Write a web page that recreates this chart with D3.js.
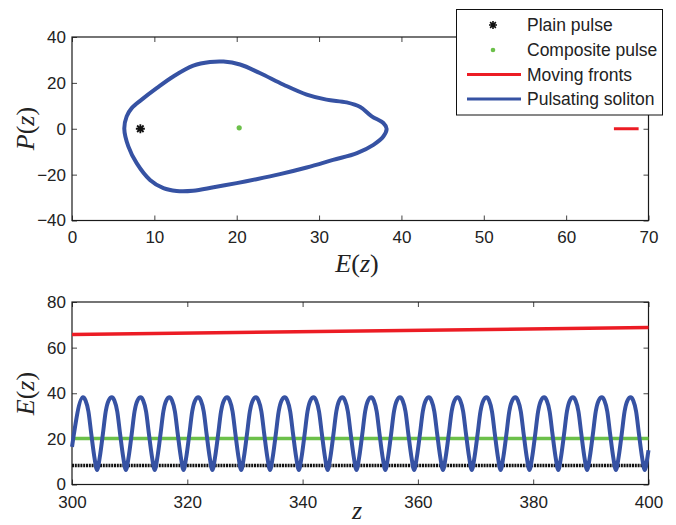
<!DOCTYPE html>
<html>
<head>
<meta charset="utf-8">
<script src="https://cdn.jsdelivr.net/npm/d3@7"></script>
<style>
  body { margin: 0; background: #fff; }
  svg { display: block; }
</style>
</head>
<body>
<script>
// ---- top panel: phase plane P(z) vs E(z) ----
const loopE = [6.35, 6.64, 7.25, 8.46, 10.28, 12.3, 14.73, 16.76, 18.4, 20.4, 22.8, 25.7, 28.5, 30.9,
               33.35, 35, 36.4, 37.8, 38.2, 37.8, 36.6, 34.6, 31.7, 28.5, 25.25, 22.4, 20, 17.2, 14.7,
               12.7, 11.1, 9.47, 7.85, 6.84];
const loopP = [0, 5.4, 9.0, 12.7, 17.7, 22.8, 27.5, 29.1, 29.3, 28, 24.3, 19.2, 14.9, 12.7,
               11.5, 9.5, 5.4, 2.5, 0, -3.4, -7, -10.6, -13.6, -16.9, -19.8, -22, -23.7, -25.5, -27,
               -27.1, -25.9, -22.3, -15, -7.7];
const plainPoint = [8.3, 0];
const compositePoint = [20.3, 0.4];
const frontsPhaseE = [65.8, 68.8];
const frontsPhaseP = [0, 0];

// ---- bottom panel: E(z) vs z ----
const frontsZ = [300, 400];
const frontsE = [65.8, 68.8];
const plainZ = [300, 400];
const plainE = [8.3, 8.3];
const compositeZ = [300, 400];
const compositeE = [20.2, 20.2];
// one row per period: peak, falling side, trough, rising side
const solitonZ = [300,
  301.9, 302.35, 302.85, 303.35, 303.85, 304.35, 304.85, 305.35, 305.85, 306.35,
  306.9, 307.35, 307.85, 308.35, 308.85, 309.35, 309.85, 310.35, 310.85, 311.35,
  311.9, 312.35, 312.85, 313.35, 313.85, 314.35, 314.85, 315.35, 315.85, 316.35,
  316.9, 317.35, 317.85, 318.35, 318.85, 319.35, 319.85, 320.35, 320.85, 321.35,
  321.9, 322.35, 322.85, 323.35, 323.85, 324.35, 324.85, 325.35, 325.85, 326.35,
  326.9, 327.35, 327.85, 328.35, 328.85, 329.35, 329.85, 330.35, 330.85, 331.35,
  331.9, 332.35, 332.85, 333.35, 333.85, 334.35, 334.85, 335.35, 335.85, 336.35,
  336.9, 337.35, 337.85, 338.35, 338.85, 339.35, 339.85, 340.35, 340.85, 341.35,
  341.9, 342.35, 342.85, 343.35, 343.85, 344.35, 344.85, 345.35, 345.85, 346.35,
  346.9, 347.35, 347.85, 348.35, 348.85, 349.35, 349.85, 350.35, 350.85, 351.35,
  351.9, 352.35, 352.85, 353.35, 353.85, 354.35, 354.85, 355.35, 355.85, 356.35,
  356.9, 357.35, 357.85, 358.35, 358.85, 359.35, 359.85, 360.35, 360.85, 361.35,
  361.9, 362.35, 362.85, 363.35, 363.85, 364.35, 364.85, 365.35, 365.85, 366.35,
  366.9, 367.35, 367.85, 368.35, 368.85, 369.35, 369.85, 370.35, 370.85, 371.35,
  371.9, 372.35, 372.85, 373.35, 373.85, 374.35, 374.85, 375.35, 375.85, 376.35,
  376.9, 377.35, 377.85, 378.35, 378.85, 379.35, 379.85, 380.35, 380.85, 381.35,
  381.9, 382.35, 382.85, 383.35, 383.85, 384.35, 384.85, 385.35, 385.85, 386.35,
  386.9, 387.35, 387.85, 388.35, 388.85, 389.35, 389.85, 390.35, 390.85, 391.35,
  391.9, 392.35, 392.85, 393.35, 393.85, 394.35, 394.85, 395.35, 395.85, 396.35,
  396.9, 397.35, 397.85, 398.35, 398.85, 399.35, 399.85, 400];
const solitonE = [16.5,
  38.2, 36.8, 32, 22, 12.5, 6.4, 12.5, 22, 32, 36.8,
  38.2, 36.8, 32, 22, 12.5, 6.4, 12.5, 22, 32, 36.8,
  38.2, 36.8, 32, 22, 12.5, 6.4, 12.5, 22, 32, 36.8,
  38.2, 36.8, 32, 22, 12.5, 6.4, 12.5, 22, 32, 36.8,
  38.2, 36.8, 32, 22, 12.5, 6.4, 12.5, 22, 32, 36.8,
  38.2, 36.8, 32, 22, 12.5, 6.4, 12.5, 22, 32, 36.8,
  38.2, 36.8, 32, 22, 12.5, 6.4, 12.5, 22, 32, 36.8,
  38.2, 36.8, 32, 22, 12.5, 6.4, 12.5, 22, 32, 36.8,
  38.2, 36.8, 32, 22, 12.5, 6.4, 12.5, 22, 32, 36.8,
  38.2, 36.8, 32, 22, 12.5, 6.4, 12.5, 22, 32, 36.8,
  38.2, 36.8, 32, 22, 12.5, 6.4, 12.5, 22, 32, 36.8,
  38.2, 36.8, 32, 22, 12.5, 6.4, 12.5, 22, 32, 36.8,
  38.2, 36.8, 32, 22, 12.5, 6.4, 12.5, 22, 32, 36.8,
  38.2, 36.8, 32, 22, 12.5, 6.4, 12.5, 22, 32, 36.8,
  38.2, 36.8, 32, 22, 12.5, 6.4, 12.5, 22, 32, 36.8,
  38.2, 36.8, 32, 22, 12.5, 6.4, 12.5, 22, 32, 36.8,
  38.2, 36.8, 32, 22, 12.5, 6.4, 12.5, 22, 32, 36.8,
  38.2, 36.8, 32, 22, 12.5, 6.4, 12.5, 22, 32, 36.8,
  38.2, 36.8, 32, 22, 12.5, 6.4, 12.5, 22, 32, 36.8,
  38.2, 36.8, 32, 22, 12.5, 6.4, 12.5, 15];

const topXTicks = [0, 10, 20, 30, 40, 50, 60, 70];
const topYTicks = [-40, -20, 0, 20, 40];
const botXTicks = [300, 320, 340, 360, 380, 400];
const botYTicks = [0, 20, 40, 60, 80];
const legendLabels = ["Plain pulse", "Composite pulse", "Moving fronts", "Pulsating soliton"];

const RED = "#ec1c24", BLUE = "#3652a3", GREEN = "#6cc04a", BLACK = "#111";
const SANS = "'Liberation Sans', Arial, sans-serif";
const SERIF = "'Liberation Serif', 'Times New Roman', serif";

const width = 676, height = 525;
const svg = d3.select("body").append("svg")
  .attr("width", width)
  .attr("height", height);

const left = 72, right = 648.5;

// scales
const xTop = d3.scaleLinear().domain([0, 70]).range([left, right]);
const yTop = d3.scaleLinear().domain([-40, 40]).range([220.5, 37]);
const xBot = d3.scaleLinear().domain([300, 400]).range([left, right]);
const yBot = d3.scaleLinear().domain([0, 80]).range([484.5, 302]);

function frame(x, y, xt, yt, pad){
  const g = svg.append("g");
  const y0 = y.range()[0], y1 = y.range()[1];
  const x0 = x.range()[0], x1 = x.range()[1];

  const styleAxis = sel => {
    sel.select(".domain").remove();
    sel.selectAll(".tick line").attr("stroke", "#444").attr("stroke-width", 1);
    sel.selectAll(".tick text").attr("fill", "#222");
    sel.attr("font-family", SANS).attr("font-size", 17);
  };

  g.append("g").attr("transform", `translate(0,${y0})`)
    .call(d3.axisBottom(x).tickValues(xt).tickSizeInner(-5).tickSizeOuter(0).tickPadding(pad))
    .call(styleAxis);
  g.append("g").attr("transform", `translate(0,${y1})`)
    .call(d3.axisTop(x).tickValues(xt).tickSizeInner(-5).tickSizeOuter(0).tickFormat(""))
    .call(styleAxis);
  g.append("g").attr("transform", `translate(${x0},0)`)
    .call(d3.axisLeft(y).tickValues(yt).tickSizeInner(-5).tickSizeOuter(0).tickPadding(6))
    .call(styleAxis);
  g.append("g").attr("transform", `translate(${x1},0)`)
    .call(d3.axisRight(y).tickValues(yt).tickSizeInner(-5).tickSizeOuter(0).tickFormat(""))
    .call(styleAxis);

  g.append("rect")
    .attr("x", x0).attr("y", y1)
    .attr("width", x1 - x0).attr("height", y0 - y1)
    .attr("fill", "none").attr("stroke", "#1a1a1a").attr("stroke-width", 1.2);
}

// italic math label like E(z): letters italic, parens upright
function mathLabel(x, y, parts, rotate){
  const t = svg.append("text")
    .attr("font-family", SERIF).attr("font-size", 26)
    .attr("fill", "#222").attr("text-anchor", "middle")
    .attr("transform", `translate(${x},${y})` + (rotate ? " rotate(-90)" : ""));
  parts.forEach(([s, it]) => t.append("tspan").attr("font-style", it ? "italic" : "normal").text(s));
}

const starPath = r => {
  const d = r * 0.72;
  return `M${-r},0L${r},0M0,${-r}L0,${r}M${-d},${-d}L${d},${d}M${-d},${d}L${d},${-d}`;
};

// ---------- top panel ----------
frame(xTop, yTop, topXTicks, topYTicks, 10);

const loopLine = d3.line()
  .x(i => xTop(loopE[i]))
  .y(i => yTop(loopP[i]))
  .curve(d3.curveCatmullRomClosed.alpha(0.5));

svg.append("path")
  .attr("d", starPath(4.5))
  .attr("transform", `translate(${xTop(plainPoint[0])},${yTop(plainPoint[1])})`)
  .attr("stroke", BLACK).attr("stroke-width", 1.8).attr("fill", "none");

svg.append("circle")
  .attr("cx", xTop(compositePoint[0])).attr("cy", yTop(compositePoint[1]))
  .attr("r", 2.6).attr("fill", GREEN);

svg.append("path")
  .attr("d", d3.line()(frontsPhaseE.map((e, i) => [xTop(e), yTop(frontsPhaseP[i])])))
  .attr("stroke", RED).attr("stroke-width", 3).attr("fill", "none");

svg.append("path")
  .attr("d", loopLine(d3.range(loopE.length)))
  .attr("stroke", BLUE).attr("stroke-width", 4).attr("fill", "none");

mathLabel(357, 272, [["E", true], ["(", false], ["z", true], [")", false]], false);
mathLabel(34, 128.5, [["P", true], ["(", false], ["z", true], [")", false]], true);

// legend
const lg = svg.append("g");
lg.append("rect")
  .attr("x", 456.5).attr("y", 9.5).attr("width", 206).attr("height", 105.5)
  .attr("fill", "#fff").attr("stroke", "#111").attr("stroke-width", 1);
const rowY = [25, 50, 74.5, 99];
legendLabels.forEach((lab, i) => {
  const yy = rowY[i];
  if (i === 0) {
    lg.append("path").attr("d", starPath(4))
      .attr("transform", `translate(493,${yy})`)
      .attr("stroke", BLACK).attr("stroke-width", 1.6).attr("fill", "none");
  } else if (i === 1) {
    lg.append("circle").attr("cx", 493).attr("cy", yy).attr("r", 2.3).attr("fill", GREEN);
  } else {
    lg.append("line").attr("x1", 467).attr("x2", 521).attr("y1", yy).attr("y2", yy)
      .attr("stroke", i === 2 ? RED : BLUE).attr("stroke-width", 3);
  }
  lg.append("text").attr("x", 527).attr("y", yy).attr("dy", "0.36em")
    .attr("font-family", SANS).attr("font-size", 17.5).attr("fill", "#222")
    .text(lab);
});

// ---------- bottom panel ----------
frame(xBot, yBot, botXTicks, botYTicks, 11.5);

const seriesLine = (zs, es) => d3.line()
  .x(i => xBot(zs[i]))
  .y(i => yBot(es[i]))(d3.range(zs.length));

svg.append("path").attr("d", seriesLine(frontsZ, frontsE))
  .attr("stroke", RED).attr("stroke-width", 3.5).attr("fill", "none");

svg.append("path").attr("d", seriesLine(plainZ, plainE))
  .attr("stroke", BLACK).attr("stroke-width", 3.4).attr("stroke-dasharray", "2,0.8").attr("fill", "none");

svg.append("path").attr("d", seriesLine(compositeZ, compositeE))
  .attr("stroke", GREEN).attr("stroke-width", 3.5).attr("fill", "none");

svg.append("path")
  .attr("d", d3.line()
    .x(i => xBot(solitonZ[i]))
    .y(i => yBot(solitonE[i]))
    .curve(d3.curveMonotoneX)(d3.range(solitonZ.length)))
  .attr("stroke", BLUE).attr("stroke-width", 4).attr("fill", "none");

mathLabel(357, 519, [["z", true]], false);
mathLabel(34, 393.5, [["E", true], ["(", false], ["z", true], [")", false]], true);
</script>
</body>
</html>
